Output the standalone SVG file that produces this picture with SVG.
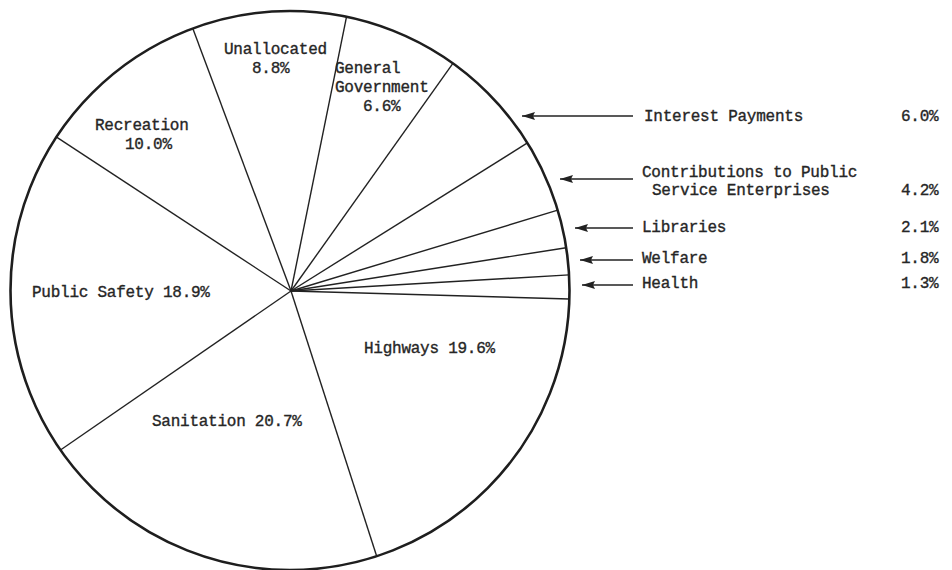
<svg xmlns="http://www.w3.org/2000/svg" width="952" height="570" viewBox="0 0 952 570">
<style>
.t{font-family:"Liberation Mono","Courier New",monospace;font-size:16px;letter-spacing:-0.25px;fill:#262626;stroke:#262626;stroke-width:0.35px}
.sp{stroke:#222;stroke-width:1.4;fill:none}
.rim{stroke:#1e1e1e;stroke-width:2.6;fill:none}
.ar{stroke:#222;stroke-width:1.5;fill:none;marker-end:url(#ah)}
</style>
<defs>
<marker id="ah" markerUnits="userSpaceOnUse" markerWidth="14" markerHeight="10" refX="13" refY="4.5" orient="auto">
<path d="M0,0.5 L13,4.5 L0,8.5 L2,4.5 z" fill="#222"/>
</marker>
</defs>
<rect width="952" height="570" fill="#fff"/>
<g id="spokes">
<line class="sp" x1="291" y1="291" x2="569.4" y2="299"/>
<line class="sp" x1="291" y1="291" x2="569.1" y2="274.9"/>
<line class="sp" x1="291" y1="291" x2="566.2" y2="247.7"/>
<line class="sp" x1="291" y1="291" x2="557.7" y2="210.2"/>
<line class="sp" x1="291" y1="291" x2="527.4" y2="142.9"/>
<line class="sp" x1="291" y1="291" x2="452.9" y2="63.4"/>
<line class="sp" x1="291" y1="291" x2="346.5" y2="16.8"/>
<line class="sp" x1="291" y1="291" x2="192.8" y2="28.5"/>
<line class="sp" x1="291" y1="291" x2="56.6" y2="137.2"/>
<line class="sp" x1="291" y1="291" x2="60.5" y2="450"/>
<line class="sp" x1="291" y1="291" x2="376.7" y2="556.2"/>
</g>
<g id="pie"><circle class="rim" cx="290" cy="290.5" r="279.5"/></g>
<g id="unallocated"><text class="t" x="224" y="54">Unallocated</text><text class="t" x="252" y="73">8.8%</text></g>
<g id="general-government"><text class="t" x="335" y="73">General</text><text class="t" x="335" y="92">Government</text><text class="t" x="363" y="111">6.6%</text></g>
<g id="recreation"><text class="t" x="95" y="130">Recreation</text><text class="t" x="125" y="149">10.0%</text></g>
<g id="public-safety"><text class="t" x="32" y="297">Public Safety 18.9%</text></g>
<g id="highways"><text class="t" x="364" y="353">Highways 19.6%</text></g>
<g id="sanitation"><text class="t" x="152" y="426">Sanitation 20.7%</text></g>
<g id="interest-payments"><text class="t" x="644" y="121">Interest Payments</text><text class="t" x="901" y="121">6.0%</text></g>
<g id="contributions"><text class="t" x="642" y="177">Contributions to Public</text><text class="t" x="652" y="195">Service Enterprises</text><text class="t" x="901" y="195">4.2%</text></g>
<g id="libraries"><text class="t" x="642" y="232">Libraries</text><text class="t" x="901" y="232">2.1%</text></g>
<g id="welfare"><text class="t" x="642" y="263">Welfare</text><text class="t" x="901" y="263">1.8%</text></g>
<g id="health"><text class="t" x="642" y="288">Health</text><text class="t" x="901" y="288">1.3%</text></g>
<g id="connectors">
<line class="ar" x1="633" y1="116" x2="522" y2="116"/>
<line class="ar" x1="633" y1="179" x2="560" y2="179"/>
<line class="ar" x1="633" y1="228" x2="575" y2="228"/>
<line class="ar" x1="633" y1="260" x2="580" y2="260"/>
<line class="ar" x1="633" y1="285" x2="582" y2="285"/>
</g>
</svg>
